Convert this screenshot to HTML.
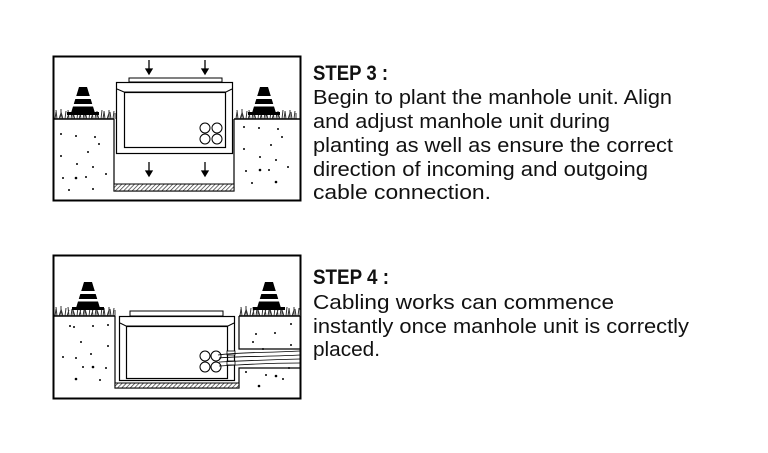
<!DOCTYPE html>
<html><head><style>html,body{margin:0;padding:0;background:#fff}svg{display:block}</style></head>
<body>
<svg width="768" height="453" viewBox="0 0 768 453" xmlns="http://www.w3.org/2000/svg">
<defs>
<pattern id="h" width="3" height="3" patternUnits="userSpaceOnUse" patternTransform="rotate(45)"><rect width="3" height="3" fill="#fff"/><line x1="0" y1="0" x2="0" y2="3" stroke="#333" stroke-width="1.4"/></pattern>
<g id="cone"><polygon points="-4,0 4,0 12,26 -12,26" fill="#000"/><rect x="-9" y="9" width="18" height="3" fill="#fff"/><rect x="-11" y="17" width="22" height="2.5" fill="#fff"/><rect x="-16" y="25" width="32" height="3" fill="#000"/></g>
<g id="grass" stroke="#333" stroke-width="1"><path d="M0,0 l1,-7 M2,0 l-1,-9 M4,0 l2,-6 M6,0 l0,-10 M8,0 l-2,-7 M10,0 l1,-8 M12,0 l2,-6 M14,0 l-1,-9 M16,0 l1,-7 M18,0 l0,-8 M20,0 l-2,-6 M22,0 l1,-9 M24,0 l2,-7 M26,0 l-1,-8 M28,0 l1,-6 M30,0 l0,-9 M32,0 l-2,-7 M34,0 l1,-8 M36,0 l2,-6 M38,0 l-1,-9 M40,0 l1,-7 M42,0 l0,-8 M44,0 l-2,-6 M46,0 l1,-9 M48,0 l1,-7 M50,0 l-1,-8 M52,0 l2,-6 M54,0 l0,-9 M56,0 l-1,-7 M58,0 l1,-8 M60,0 l0,-6"/></g>
</defs>
<!-- STEP 3 figure -->
<rect x="53.5" y="56.5" width="247" height="144" fill="#fff" stroke="#000" stroke-width="2"/>
<use href="#grass" x="55" y="119"/>
<use href="#grass" x="236" y="119"/>
<line x1="54" y1="119" x2="114" y2="119" stroke="#000" stroke-width="1.5"/>
<line x1="234" y1="119" x2="300" y2="119" stroke="#000" stroke-width="1.5"/>
<polyline points="114,119 114,191 234,191 234,119" fill="none" stroke="#000" stroke-width="1.2"/>
<rect x="114" y="184" width="120" height="7" fill="url(#h)" stroke="#000" stroke-width="1"/>
<use href="#cone" x="83" y="87"/>
<use href="#cone" x="264" y="87"/>
<rect x="129" y="78" width="93" height="4" fill="#fff" stroke="#000" stroke-width="1"/>
<rect x="116.5" y="82.5" width="116" height="71" fill="#fff" stroke="#000" stroke-width="1.2"/>
<polyline points="117,89 124,92 226,92 232,89" fill="none" stroke="#000" stroke-width="1"/>
<rect x="124.5" y="92.5" width="101" height="55" fill="none" stroke="#000" stroke-width="1.2"/>
<g fill="none" stroke="#000" stroke-width="1"><circle cx="205" cy="128" r="5"/><circle cx="217" cy="128" r="5"/><circle cx="205" cy="139" r="5"/><circle cx="217" cy="139" r="5"/></g>
<g fill="#000" stroke="#000" stroke-width="1.3">
<line x1="149" y1="60" x2="149" y2="70"/><polygon points="146,69 152,69 149,74"/>
<line x1="205" y1="60" x2="205" y2="70"/><polygon points="202,69 208,69 205,74"/>
<line x1="149" y1="162" x2="149" y2="172"/><polygon points="146,171 152,171 149,176"/>
<line x1="205" y1="162" x2="205" y2="172"/><polygon points="202,171 208,171 205,176"/>
</g>
<g fill="#000"><circle cx="61" cy="134" r="1"/><circle cx="76" cy="136" r="1"/><circle cx="95" cy="137" r="1"/><circle cx="99" cy="144" r="1"/><circle cx="61" cy="156" r="1"/><circle cx="88" cy="152" r="1"/><circle cx="77" cy="164" r="1"/><circle cx="93" cy="167" r="1"/><circle cx="106" cy="174" r="1"/><circle cx="63" cy="178" r="1"/><circle cx="76" cy="178" r="1.3"/><circle cx="86" cy="177" r="1"/><circle cx="69" cy="190" r="1"/><circle cx="93" cy="189" r="1"/><circle cx="244" cy="127" r="1"/><circle cx="259" cy="128" r="1"/><circle cx="278" cy="129" r="1"/><circle cx="282" cy="137" r="1"/><circle cx="271" cy="145" r="1"/><circle cx="244" cy="149" r="1"/><circle cx="260" cy="157" r="1"/><circle cx="276" cy="160" r="1"/><circle cx="288" cy="167" r="1"/><circle cx="246" cy="171" r="1"/><circle cx="260" cy="170" r="1.3"/><circle cx="269" cy="170" r="1"/><circle cx="252" cy="183" r="1"/><circle cx="276" cy="182" r="1.3"/></g>

<!-- STEP 4 figure -->
<rect x="53.5" y="255.5" width="247" height="143" fill="#fff" stroke="#000" stroke-width="2"/>
<use href="#grass" x="55" y="316"/>
<use href="#grass" x="240" y="316"/>
<line x1="54" y1="316" x2="115" y2="316" stroke="#000" stroke-width="1.5"/>
<line x1="239" y1="316" x2="300" y2="316" stroke="#000" stroke-width="1.5"/>
<polyline points="115,316 115,388 239,388 239,368 300,368" fill="none" stroke="#000" stroke-width="1.2"/>
<polyline points="239,316 239,349 300,349" fill="none" stroke="#000" stroke-width="1.2"/>
<rect x="115" y="383" width="124" height="5" fill="url(#h)" stroke="#000" stroke-width="1"/>
<use href="#cone" x="88" y="282"/>
<use href="#cone" x="269" y="282"/>
<rect x="130" y="311" width="93" height="5" fill="#fff" stroke="#000" stroke-width="1"/>
<rect x="119.5" y="316.5" width="115" height="64" fill="#fff" stroke="#000" stroke-width="1.2"/>
<polyline points="120,323 126,326 228,326 234,323" fill="none" stroke="#000" stroke-width="1"/>
<rect x="126.5" y="326.5" width="101" height="52" fill="none" stroke="#000" stroke-width="1.2"/>
<rect x="227" y="351" width="8" height="4" fill="#fff" stroke="#000" stroke-width="0.8"/>
<rect x="227" y="361" width="8" height="4" fill="#fff" stroke="#000" stroke-width="0.8"/>
<g fill="#fff" stroke="#000" stroke-width="1"><circle cx="205" cy="356" r="5"/><circle cx="216" cy="356" r="5"/><circle cx="205" cy="367" r="5"/><circle cx="216" cy="367" r="5"/></g>
<g fill="none" stroke="#000" stroke-width="0.8"><path d="M218,355 C240,352 260,353 300,351"/><path d="M219,358 C240,356 260,357 300,355"/><path d="M219,362 C240,361 260,360 300,359"/><path d="M219,366 C240,365 260,363 300,363"/></g>
<g fill="#000"><circle cx="70" cy="326" r="1"/><circle cx="74" cy="327" r="1"/><circle cx="93" cy="326" r="1"/><circle cx="108" cy="325" r="1"/><circle cx="81" cy="342" r="1"/><circle cx="108" cy="346" r="1"/><circle cx="63" cy="357" r="1"/><circle cx="76" cy="358" r="1"/><circle cx="91" cy="354" r="1"/><circle cx="83" cy="367" r="1"/><circle cx="93" cy="367" r="1.3"/><circle cx="106" cy="368" r="1"/><circle cx="76" cy="379" r="1.3"/><circle cx="100" cy="380" r="1"/><circle cx="291" cy="324" r="1"/><circle cx="256" cy="334" r="1"/><circle cx="275" cy="333" r="1"/><circle cx="253" cy="342" r="1"/><circle cx="291" cy="345" r="1"/><circle cx="263" cy="349" r="1"/><circle cx="289" cy="368" r="1"/><circle cx="246" cy="372" r="1"/><circle cx="266" cy="375" r="1"/><circle cx="276" cy="376" r="1.3"/><circle cx="283" cy="379" r="1"/><circle cx="259" cy="386" r="1.3"/></g>

<!-- text -->
<g font-family="'Liberation Sans', sans-serif" fill="#111">
<text x="313" y="80" font-size="21" font-weight="bold" textLength="75" lengthAdjust="spacingAndGlyphs">STEP 3 :</text>
<g font-size="20">
<text x="313" y="104" textLength="359" lengthAdjust="spacingAndGlyphs">Begin to plant the manhole unit. Align</text>
<text x="313" y="128" textLength="297" lengthAdjust="spacingAndGlyphs">and adjust manhole unit during</text>
<text x="313" y="152" textLength="360" lengthAdjust="spacingAndGlyphs">planting as well as ensure the correct</text>
<text x="313" y="176" textLength="335" lengthAdjust="spacingAndGlyphs">direction of incoming and outgoing</text>
<text x="313" y="199" textLength="178" lengthAdjust="spacingAndGlyphs">cable connection.</text>
</g>
<text x="313" y="284" font-size="21" font-weight="bold" textLength="76" lengthAdjust="spacingAndGlyphs">STEP 4 :</text>
<g font-size="20">
<text x="313" y="309" textLength="301" lengthAdjust="spacingAndGlyphs">Cabling works can commence</text>
<text x="313" y="333" textLength="376" lengthAdjust="spacingAndGlyphs">instantly once manhole unit is correctly</text>
<text x="313" y="356" textLength="67" lengthAdjust="spacingAndGlyphs">placed.</text>
</g>
</g>
</svg>
</body></html>
